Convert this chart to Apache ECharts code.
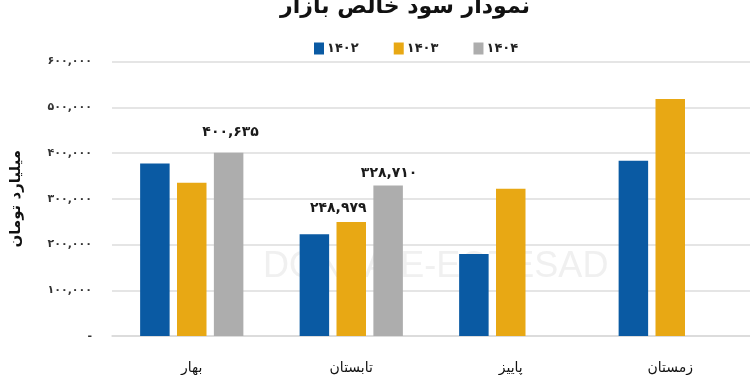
<!DOCTYPE html>
<html>
<head>
<meta charset="utf-8">
<script src="https://cdn.jsdelivr.net/npm/echarts@6/dist/echarts.min.js"></script>
<style>
html,body{margin:0;padding:0;background:#fff;}
#c{width:750px;height:375px;}
</style>
</head>
<body>
<div id="c"></div>
<script>
const titleText = 'نمودار سود خالص بازار';
const yAxisName = 'میلیارد تومان';
const watermarkText = 'DONYA-E-EQTESAD';
const categories = ['بهار', 'تابستان', 'پاییز', 'زمستان'];
const seriesNames = ['۱۴۰۲', '۱۴۰۳', '۱۴۰۴'];
const values1402 = [377000, 222500, 179000, 383000];
const values1403 = [335000, 248979, 322000, 518000];
const values1404 = [400635, 328710, null, null];
const colors = ['#0a5aa3', '#e8a814', '#adadad'];
const yMin = 0, yMax = 600000, yStep = 100000;
// labelled points: [seriesIndex, categoryIndex, offsetX, offsetY]
const labelled = [[2, 0, 2, -8], [1, 1, -13, -2], [2, 1, 1, 0]];

const FONT = 'DejaVu Sans';
const fa = s => String(s).replace(/\d/g, d => '۰۱۲۳۴۵۶۷۸۹'[d]);
const fmt = v => v === 0 ? '-' : fa(Number(v).toLocaleString('en-US'));

const allValues = [values1402, values1403, values1404];
const series = allValues.map((vals, si) => ({
  name: seriesNames[si],
  type: 'bar',
  z: 3,
  barWidth: 29.5,
  barGap: '25%',
  itemStyle: { color: colors[si] },
  data: vals.map((v, ci) => {
    const l = labelled.find(e => e[0] === si && e[1] === ci);
    if (!l || v == null) return v;
    return {
      value: v,
      label: {
        show: true, position: 'top', offset: [l[2], l[3]],
        formatter: p => fmt(p.value),
        fontFamily: FONT, fontWeight: 'bold', fontSize: 14, color: '#1a1a1a'
      }
    };
  })
}));

const chart = echarts.init(document.getElementById('c'), null, { renderer: 'canvas' });
chart.setOption({
  animation: false,
  backgroundColor: '#ffffff',
  title: {
    text: titleText, left: 400, top: -9, textAlign: 'center',
    textStyle: { fontFamily: FONT, fontWeight: 'bold', fontSize: 22, color: '#111' }
  },
  graphic: [{
    type: 'text', left: 263, top: 249, z: 1, silent: true,
    style: {
      text: watermarkText, fill: 'rgba(200,200,200,0.28)',
      font: '36px "Liberation Sans Narrow", "Liberation Sans", sans-serif'
    }
  }],
  legend: {
    left: 309, top: 37, itemWidth: 10, itemHeight: 12, itemGap: 35,
    icon: 'rect',
    data: seriesNames,
    textStyle: { fontFamily: FONT, fontWeight: 'bold', fontSize: 13, color: '#222', padding: [0, 0, 0, -2] }
  },
  grid: { left: 112, top: 61.5, width: 670, height: 284 },
  xAxis: {
    type: 'category', data: categories,
    axisLine: { show: true, lineStyle: { color: '#d9d9d9', width: 1.5 } },
    axisTick: { show: false },
    axisLabel: { margin: 25, fontFamily: FONT, fontSize: 14, color: '#111' }
  },
  yAxis: {
    type: 'value', min: yMin, max: yMax, interval: yStep,
    name: yAxisName, nameLocation: 'middle', nameGap: 88, nameRotate: 90,
    nameTextStyle: { fontFamily: FONT, fontWeight: 'bold', fontSize: 15, color: '#111' },
    axisLine: { show: false }, axisTick: { show: false },
    axisLabel: { margin: 20, formatter: fmt, fontFamily: FONT, fontSize: 11, fontWeight: 'bold', color: '#333' },
    splitLine: { lineStyle: { color: '#dcdcdc', width: 1.5 } }
  },
  series: series
});
</script>
</body>
</html>
